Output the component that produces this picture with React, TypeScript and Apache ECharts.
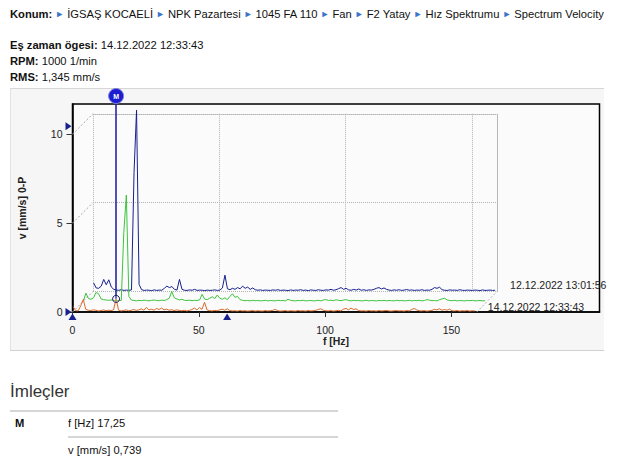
import { useEffect, useRef } from 'react'
import * as echarts from 'echarts'

// spectrum bins: f = FREQ_START + i * FREQ_STEP  [Hz]
const FREQ_START = 0.25
const FREQ_STEP = 1

// 14.12.2022 12:33:43 (front)
const ORANGE_VALUES = [
  0.30, 0.08, 0.06, 0.35, 0.70, 0.15, 0.10, 0.08, 0.12, 0.10,
  0.06, 0.08, 0.12, 0.07, 0.10, 0.08, 0.12, 0.739, 0.10, 0.06,
  0.09, 0.12, 0.07, 0.10, 0.14, 0.09, 0.12, 0.18, 0.10, 0.26,
  0.12, 0.16, 0.10, 0.20, 0.14, 0.22, 0.12, 0.16, 0.10, 0.13,
  0.08, 0.12, 0.09, 0.07, 0.10, 0.06, 0.09, 0.14, 0.22, 0.12,
  0.25, 0.15, 0.55, 0.12, 0.08, 0.06, 0.09, 0.07, 0.12, 0.16,
  0.10, 0.18, 0.08, 0.06, 0.07, 0.05, 0.08, 0.06, 0.07, 0.05,
  0.06, 0.08, 0.05, 0.07, 0.06, 0.05, 0.08, 0.06, 0.07, 0.09,
  0.15, 0.07, 0.05, 0.06, 0.08, 0.05, 0.07, 0.06, 0.05, 0.08,
  0.06, 0.07, 0.05, 0.08, 0.06, 0.07, 0.09, 0.14, 0.18, 0.10,
  0.07, 0.06, 0.08, 0.05, 0.07, 0.09, 0.06, 0.16, 0.20, 0.12,
  0.22, 0.14, 0.18, 0.08, 0.06, 0.07, 0.05, 0.08, 0.06, 0.07,
  0.05, 0.08, 0.06, 0.07, 0.09, 0.06, 0.05, 0.07, 0.08, 0.06,
  0.07, 0.05, 0.08, 0.06, 0.14, 0.20, 0.12, 0.07, 0.06, 0.08,
  0.05, 0.07, 0.09, 0.15, 0.12, 0.18, 0.10, 0.14, 0.10, 0.16,
  0.07, 0.06, 0.08, 0.05, 0.07, 0.06, 0.08, 0.05, 0.07, 0.06,
]

// middle spectrum
const GREEN_VALUES = [
  0.05, 0.48, 0.18, 0.14, 0.22, 0.52, 0.45, 0.16, 0.12, 0.10,
  0.08, 0.10, 0.07, 0.09, 0.06, 0.08, 3.90, 6.00, 0.30, 0.10,
  0.07, 0.05, 0.08, 0.06, 0.09, 0.07, 0.05, 0.08, 0.10, 0.07,
  0.06, 0.09, 0.07, 0.12, 0.20, 0.58, 0.22, 0.16, 0.10, 0.14,
  0.08, 0.07, 0.09, 0.06, 0.08, 0.07, 0.10, 0.42, 0.15, 0.12,
  0.20, 0.28, 0.18, 0.38, 0.20, 0.14, 0.22, 0.12, 0.30, 0.45,
  0.25, 0.30, 0.12, 0.08, 0.06, 0.07, 0.05, 0.08, 0.06, 0.07,
  0.05, 0.06, 0.08, 0.05, 0.07, 0.06, 0.05, 0.08, 0.06, 0.07,
  0.05, 0.14, 0.08, 0.06, 0.05, 0.07, 0.06, 0.08, 0.05, 0.06,
  0.07, 0.05, 0.06, 0.08, 0.05, 0.10, 0.12, 0.07, 0.09, 0.06,
  0.11, 0.08, 0.06, 0.10, 0.12, 0.07, 0.05, 0.08, 0.06, 0.07,
  0.05, 0.06, 0.08, 0.05, 0.07, 0.06, 0.05, 0.07, 0.06, 0.08,
  0.05, 0.07, 0.06, 0.05, 0.08, 0.06, 0.07, 0.05, 0.06, 0.08,
  0.05, 0.07, 0.06, 0.08, 0.05, 0.07, 0.12, 0.09, 0.06, 0.07,
  0.05, 0.12, 0.16, 0.20, 0.10, 0.07, 0.06, 0.08, 0.05, 0.07,
  0.06, 0.05, 0.07, 0.06, 0.08, 0.05, 0.06, 0.07, 0.05, 0.06,
]

// 12.12.2022 13:01:56 (back)
const BLUE_VALUES = [
  0.48, 0.20, 0.18, 0.30, 0.68, 0.38, 0.66, 0.25, 0.12, 0.08,
  0.07, 0.10, 0.06, 0.08, 0.07, 0.09, 6.70, 10.20, 0.40, 0.10,
  0.06, 0.08, 0.07, 0.05, 0.09, 0.06, 0.08, 0.07, 0.18, 0.30,
  0.22, 0.28, 0.12, 0.08, 0.68, 0.12, 0.07, 0.06, 0.09, 0.07,
  0.12, 0.06, 0.08, 0.07, 0.05, 0.08, 0.06, 0.07, 0.09, 0.06,
  0.08, 0.20, 0.92, 0.15, 0.10, 0.18, 0.12, 0.22, 0.15, 0.30,
  0.18, 0.25, 0.12, 0.20, 0.10, 0.07, 0.09, 0.06, 0.08, 0.07,
  0.06, 0.09, 0.07, 0.10, 0.06, 0.08, 0.07, 0.05, 0.09, 0.06,
  0.08, 0.07, 0.10, 0.06, 0.08, 0.05, 0.09, 0.07, 0.06, 0.10,
  0.07, 0.06, 0.09, 0.08, 0.12, 0.07, 0.10, 0.16, 0.22, 0.12,
  0.18, 0.09, 0.07, 0.12, 0.08, 0.14, 0.07, 0.10, 0.06, 0.09,
  0.08, 0.12, 0.18, 0.22, 0.14, 0.20, 0.12, 0.08, 0.06, 0.09,
  0.07, 0.10, 0.06, 0.08, 0.11, 0.07, 0.09, 0.06, 0.08, 0.07,
  0.10, 0.06, 0.08, 0.07, 0.12, 0.22, 0.18, 0.24, 0.10, 0.07,
  0.06, 0.09, 0.07, 0.08, 0.06, 0.10, 0.07, 0.06, 0.08, 0.07,
  0.06, 0.08, 0.07, 0.05, 0.09, 0.06, 0.07, 0.08, 0.06, 0.07,
]

const SERIES_LABELS = ['14.12.2022 12:33:43', '', '12.12.2022 13:01:56']
const X_TICKS = [0, 50, 100, 150]
const Y_TICKS = [0, 5, 10]
const BACK_X_TICKS = [0, 50, 100, 150]
const BACK_Y_TICKS = [0, 5, 10]
const X_MAX = 208.6
const Y_MAX = 11.7
const BACK_X_MAX = 160
const BACK_Y_MAX = 10

const CURSOR_F = 17.25
const CURSOR_V = 0.739
const X_HANDLES = [0, 61.2]
const Y_HANDLES = [0, 10.45]

const FONT = '"Liberation Sans", Arial, sans-serif'
const NAVY = '#16208f'
const GRID_GRAY = '#b4b4b4'

const toPairs = (vals: number[]) => vals.map((v, i) => [FREQ_START + i * FREQ_STEP, v])
const fmt = (n: number) => String(n).replace('.', ',')

function Spectrum() {
  const chartRef = useRef<HTMLDivElement>(null)

  useEffect(() => {
    if (!chartRef.current) return
    const chart = echarts.init(chartRef.current, null, { renderer: 'svg' })

    const hidden = { show: false }
    const dotted = { color: GRID_GRAY, type: 'dotted' as const, width: 1 }

    const option: any = {
      animation: false,
      textStyle: { fontFamily: FONT },
      grid: [
        { left: 72.5, top: 104, width: 527, height: 208, show: true, borderColor: '#000', borderWidth: 1.5, backgroundColor: 'transparent' },
        { left: 82.75, top: 93.75, width: 527, height: 208 },
        { left: 93, top: 113.8, width: 404, height: 177.7 },
      ],
      xAxis: [
        {
          gridIndex: 0, type: 'value', min: 0, max: X_MAX,
          axisLine: { onZero: false, lineStyle: { color: '#000', width: 1.5 } },
          axisTick: { show: true, length: 5, customValues: X_TICKS, lineStyle: { color: '#333' } },
          axisLabel: { margin: 12, color: '#222', fontSize: 10.5, fontFamily: FONT, customValues: X_TICKS },
          splitLine: hidden,
          name: 'f [Hz]', nameLocation: 'middle', nameGap: 22,
          nameTextStyle: { color: '#222', fontWeight: 'bold', fontSize: 10.5, fontFamily: FONT },
        },
        { gridIndex: 1, type: 'value', min: 0, max: X_MAX, show: false },
        {
          gridIndex: 2, type: 'value', min: 0, max: BACK_X_MAX, position: 'top',
          axisLine: { show: true, onZero: false, lineStyle: dotted },
          axisTick: hidden, axisLabel: hidden,
          splitLine: { show: true, customValues: BACK_X_TICKS, lineStyle: dotted },
          interval: 50,
        },
      ],
      yAxis: [
        {
          gridIndex: 0, type: 'value', min: 0, max: Y_MAX,
          axisLine: { show: true, onZero: false, lineStyle: { color: '#000', width: 1.5 } },
          axisTick: { show: true, length: 6, customValues: Y_TICKS, lineStyle: { color: '#333' } },
          axisLabel: { margin: 10, color: '#222', fontSize: 10.5, fontFamily: FONT, customValues: Y_TICKS },
          splitLine: hidden,
          name: 'v [mm/s] 0-P', nameLocation: 'middle', nameGap: 45,
          nameTextStyle: { color: '#222', fontWeight: 'bold', fontSize: 10.5, fontFamily: FONT },
        },
        { gridIndex: 1, type: 'value', min: 0, max: Y_MAX, show: false },
        {
          gridIndex: 2, type: 'value', min: 0, max: BACK_Y_MAX, position: 'right', interval: 5,
          axisLine: { show: true, onZero: false, lineStyle: dotted },
          axisTick: hidden, axisLabel: hidden,
          splitLine: { show: true, customValues: BACK_Y_TICKS, lineStyle: dotted },
        },
      ],
      series: [
        {
          name: 'blue', type: 'line', xAxisIndex: 2, yAxisIndex: 2, z: 2,
          data: toPairs(BLUE_VALUES), showSymbol: false, clip: false,
          lineStyle: { color: NAVY, width: 1 },
          endLabel: { show: true, formatter: SERIES_LABELS[2], offset: [7, -5], color: '#222', fontSize: 10.5, fontFamily: FONT },
        },
        {
          name: 'green', type: 'line', xAxisIndex: 1, yAxisIndex: 1, z: 3,
          data: toPairs(GREEN_VALUES), showSymbol: false, clip: false,
          lineStyle: { color: '#3cc43c', width: 1 },
        },
        {
          name: 'orange', type: 'line', xAxisIndex: 0, yAxisIndex: 0, z: 4,
          data: toPairs(ORANGE_VALUES), showSymbol: false, clip: false,
          lineStyle: { color: '#d96a2b', width: 1 },
          endLabel: { show: true, formatter: SERIES_LABELS[0], offset: [5, -4], color: '#222', fontSize: 10.5, fontFamily: FONT },
          markLine: {
            silent: true, symbol: ['none', 'none'], label: { show: false },
            lineStyle: { color: '#1a1a9a', width: 1.5, type: 'solid' },
            data: [[{ coord: [CURSOR_F, CURSOR_V] }, { coord: [CURSOR_F, Y_MAX] }]],
          },
          markPoint: {
            silent: true,
            data: [
              {
                coord: [CURSOR_F, CURSOR_V], symbol: 'circle', symbolSize: 7,
                itemStyle: { color: 'rgba(255,255,255,0.2)', borderColor: '#1a1a6a', borderWidth: 1 },
                label: { show: false },
              },
              {
                coord: [CURSOR_F, Y_MAX], symbol: 'circle', symbolSize: 15, symbolOffset: [0, -8],
                itemStyle: { color: '#1c1cd0', borderColor: '#8080dc', borderWidth: 1 },
                label: { show: true, position: 'inside', formatter: 'M', color: '#fff', fontSize: 7, fontWeight: 'bold' },
              },
            ],
          },
        },
      ],
    }

    chart.setOption(option)

    // perspective edges between the front axes and the back plane
    const edges: any[] = []
    const corners = [[0, 0], [0, 5], [0, BACK_Y_MAX], [BACK_X_MAX, 0]]
    corners.forEach(([f, v]) => {
      const a = chart.convertToPixel({ xAxisIndex: 0, yAxisIndex: 0 }, [f, v]) as number[]
      const b = chart.convertToPixel({ xAxisIndex: 2, yAxisIndex: 2 }, [f, v]) as number[]
      edges.push({
        type: 'line', silent: true, z: 1,
        shape: { x1: a[0], y1: a[1], x2: b[0], y2: b[1] },
        style: { stroke: '#a8a8a8', lineDash: [2, 2], lineWidth: 1 },
      })
    })
    // range handles
    const handles: any[] = []
    Y_HANDLES.forEach((v) => {
      const p = chart.convertToPixel({ xAxisIndex: 0, yAxisIndex: 0 }, [0, v]) as number[]
      handles.push({
        type: 'polygon', silent: true, z: 10,
        shape: { points: [[p[0] - 7, p[1] - 4], [p[0] - 1, p[1]], [p[0] - 7, p[1] + 4]] },
        style: { fill: NAVY },
      })
    })
    X_HANDLES.forEach((f) => {
      const p = chart.convertToPixel({ xAxisIndex: 0, yAxisIndex: 0 }, [f, 0]) as number[]
      handles.push({
        type: 'polygon', silent: true, z: 10,
        shape: { points: [[p[0] - 4, p[1] + 8], [p[0], p[1] + 1.5], [p[0] + 4, p[1] + 8]] },
        style: { fill: NAVY },
      })
    })
    chart.setOption({ graphic: [...edges, ...handles] })

    return () => chart.dispose()
  }, [])

  return <div ref={chartRef} style={{ position: 'absolute', left: 0, top: 0, width: 636, height: 461 }} />
}

const tri = <span style={{ color: '#3b74cc', fontSize: 9, margin: '0 3px', position: 'relative', top: -1 }}>►</span>
const PATH = ['İGSAŞ KOCAELİ', 'NPK Pazartesi', '1045 FA 110', 'Fan', 'F2 Yatay', 'Hız Spektrumu', 'Spectrum Velocity']

export default function App() {
  const line = (top: number): React.CSSProperties => ({
    position: 'absolute', left: 10, top, fontSize: 11.2, lineHeight: '14px', whiteSpace: 'nowrap', color: '#111',
  })
  return (
    <div style={{ position: 'absolute', left: 0, top: 0, width: 636, height: 461, overflow: 'hidden', background: '#fff', fontFamily: FONT }}>
      <div style={line(7)}>
        <b>Konum:</b>
        {PATH.map((p) => (
          <span key={p}>{tri}{p}</span>
        ))}
      </div>
      <div style={line(38)}><b>Eş zaman ögesi:</b> 14.12.2022 12:33:43</div>
      <div style={line(54)}><b>RPM:</b> 1000 1/min</div>
      <div style={line(70)}><b>RMS:</b> 1,345 mm/s</div>

      <div style={{ position: 'absolute', left: 10, top: 88, width: 593, height: 261, background: '#f6f6f6', borderTop: '1px solid #d6d6d6', borderBottom: '1px solid #d0d0d0', borderLeft: '1px solid #e2e2e2' }} />
      <div style={{ position: 'absolute', left: 72, top: 104, width: 528, height: 208, background: '#fbfbfb' }} />
      <Spectrum />

      <div style={{ position: 'absolute', left: 10, top: 382, fontSize: 17, lineHeight: '20px', color: '#333' }}>İmleçler</div>
      <div style={{ position: 'absolute', left: 10, top: 410, width: 328, height: 2, background: '#d6d6d6' }} />
      <div style={{ ...line(416), left: 15, fontWeight: 'bold' }}>M</div>
      <div style={{ ...line(416), left: 68 }}>f [Hz] {fmt(CURSOR_F)}</div>
      <div style={{ position: 'absolute', left: 68, top: 436, width: 270, height: 2, background: '#d6d6d6' }} />
      <div style={{ ...line(443), left: 68 }}>v [mm/s] {fmt(CURSOR_V)}</div>
    </div>
  )
}
